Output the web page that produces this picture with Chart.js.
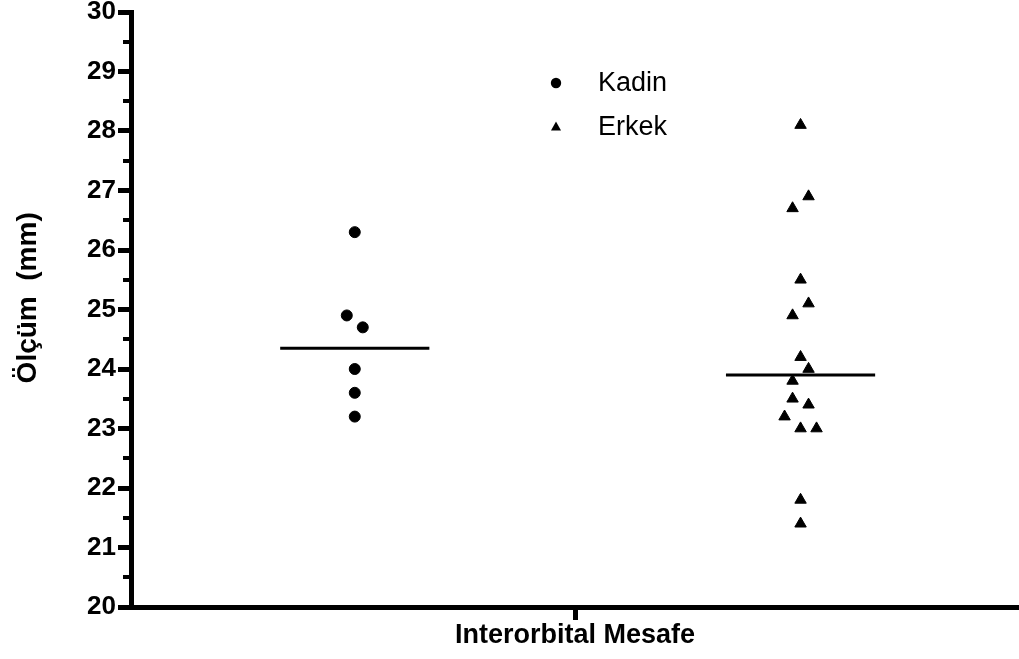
<!DOCTYPE html>
<html>
<head>
<meta charset="utf-8">
<script src="https://cdn.jsdelivr.net/npm/chart.js@4"></script>
<style>
html,body{margin:0;padding:0;background:#fff;}
canvas{display:block;}
</style>
</head>
<body>
<canvas id="chart" width="1019" height="659"></canvas>
<script>
// DATA
var groups = ["Kadin", "Erkek"];
var kadin = [26.3, 24.9, 24.7, 24.0, 23.6, 23.2];
var kadinCol = [0, -1, 1, 0, 0, 0];
var erkek = [28.1, 26.9, 26.7, 25.5, 25.1, 24.9, 24.2, 24.0, 23.8, 23.5, 23.4, 23.2, 23.0, 23.0, 21.8, 21.4];
var erkekCol = [0, 1, -1, 0, 1, -1, 0, 1, -1, -1, 1, -2, 0, 2, 0, 0];
var yTicks = [20, 21, 22, 23, 24, 25, 26, 27, 28, 29, 30];
var xCategory = "Interorbital Mesafe";
var yTitle = "Ölçüm  (mm)";

// layout of the dot columns (x axis runs 0..1)
var groupX = [0.252, 0.754];
var jitter = 0.009;
var halfLine = 0.084;
var font = "'Liberation Sans', Arial, sans-serif";

function median(arr){
  var s = arr.slice().sort(function(a,b){return a-b;});
  var m = Math.floor(s.length/2);
  return s.length % 2 ? s[m] : (s[m-1]+s[m])/2;
}

function points(vals, cols, cx){
  return vals.map(function(v,i){ return {x: cx + cols[i]*jitter, y: v}; });
}

function medianLine(vals, cx){
  var m = median(vals);
  return [{x: cx-halfLine, y: m}, {x: cx+halfLine, y: m}];
}

// -----------------------------
// minor ticks on y (half steps)
var minorTicks = {
  id: 'minorTicks',
  afterDraw: function(c){
    var y = c.scales.y, ctx = c.ctx, left = c.chartArea.left;
    ctx.save();
    ctx.strokeStyle = '#000';
    ctx.lineWidth = 4;
    for (var i = 0; i < yTicks.length-1; i++){
      var py = Math.round(y.getPixelForValue((yTicks[i]+yTicks[i+1])/2));
      ctx.beginPath();
      ctx.moveTo(left-8, py);
      ctx.lineTo(left-2, py);
      ctx.stroke();
    }
    ctx.restore();
  }
};

// legend drawn inside the plot
var innerLegend = {
  id: 'innerLegend',
  afterDraw: function(c){
    var ctx = c.ctx;
    var mx = 556, tx = 598, rows = [83, 127];
    ctx.save();
    ctx.fillStyle = '#000';
    ctx.font = "27px " + font;
    ctx.textBaseline = 'middle';
    for (var i = 0; i < 2; i++){
      var ds = c.data.datasets[i], y = rows[i];
      ctx.beginPath();
      if (ds.pointStyle === 'triangle'){
        ctx.moveTo(mx, y-5.5);
        ctx.lineTo(mx+5, y+3.5);
        ctx.lineTo(mx-5, y+3.5);
        ctx.closePath();
      } else {
        ctx.arc(mx, y, 5.2, 0, Math.PI*2);
      }
      ctx.fill();
      ctx.fillText(ds.label, tx, y+1);
    }
    ctx.restore();
  }
};

new Chart(document.getElementById("chart"), {
  type: 'scatter',
  data: {
    datasets: [
      {label: groups[0], data: points(kadin, kadinCol, groupX[0]), pointStyle: 'circle',
       pointRadius: 5.5, backgroundColor: '#000', borderColor: '#000', borderWidth: 1},
      {label: groups[1], data: points(erkek, erkekCol, groupX[1]), pointStyle: 'triangle',
       pointRadius: 6.6, backgroundColor: '#000', borderColor: '#000', borderWidth: 1},
      {type: 'line', label: 'kadinMed', data: medianLine(kadin, groupX[0]), borderColor: '#000',
       borderWidth: 3, pointRadius: 0, fill: false},
      {type: 'line', label: 'erkekMed', data: medianLine(erkek, groupX[1]), borderColor: '#000',
       borderWidth: 3, pointRadius: 0, fill: false}
    ]
  },
  options: {
    responsive: false,
    animation: false,
    layout: {autoPadding: false, padding: 0},
    plugins: {legend: {display: false}, tooltip: {enabled: false}},
    scales: {
      x: {
        type: 'linear', min: 0, max: 1,
        afterBuildTicks: function(s){ s.ticks = [{value: 0.5}]; },
        afterFit: function(s){ s.height = 52; },
        ticks: {callback: function(){ return ''; }},
        grid: {drawOnChartArea: false, drawTicks: true, tickLength: 13, tickWidth: 5, tickColor: '#000'},
        border: {display: true, width: 5, color: '#000'},
        title: {display: true, text: xCategory, color: '#000',
                font: {family: font, size: 27, weight: 'bold'}, padding: {top: 0, bottom: 7}}
      },
      y: {
        min: 20, max: 30,
        afterBuildTicks: function(s){ s.ticks = yTicks.map(function(v){ return {value: v}; }); },
        afterFit: function(s){ s.width = 131; s.paddingTop = 12; s.paddingBottom = 0; },
        ticks: {color: '#000', padding: 2, font: {family: font, size: 26, weight: 'bold'}},
        grid: {drawOnChartArea: false, drawTicks: true, tickLength: 13, tickWidth: 5, tickColor: '#000'},
        border: {display: true, width: 5, color: '#000'},
        title: {display: true, text: "\u00a0\u00a0\u00a0" + yTitle, color: '#000',
                font: {family: font, size: 28, weight: 'bold'}, padding: {top: 11, bottom: 0}}
      }
    }
  },
  plugins: [minorTicks, innerLegend]
});
</script>
</body>
</html>
